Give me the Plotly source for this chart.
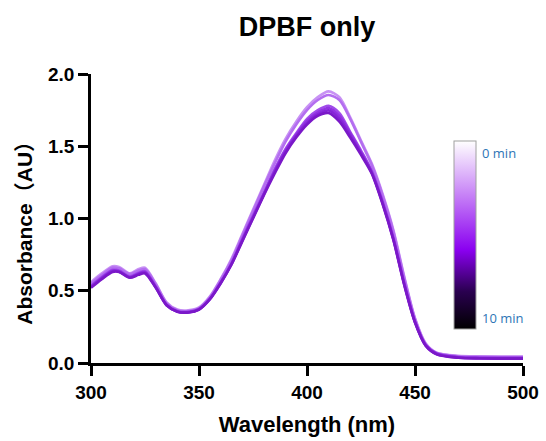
import plotly.graph_objects as go

wavelength = [300, 305, 310, 313, 318, 322, 325, 330, 335, 340, 345, 350, 355, 360, 365,
              370, 375, 380, 385, 390, 395, 400, 405, 410, 415, 420, 425, 430, 435, 440,
              445, 450, 455, 460, 470, 480, 490, 500]

abs_0min = [0.56, 0.62, 0.67, 0.665, 0.62, 0.65, 0.66, 0.55, 0.42, 0.37, 0.365, 0.385, 0.46, 0.58, 0.72,
            0.89, 1.06, 1.23, 1.40, 1.55, 1.67, 1.77, 1.84, 1.88, 1.84, 1.70, 1.54, 1.38, 1.17, 0.92,
            0.60, 0.31, 0.135, 0.072, 0.05, 0.046, 0.045, 0.045]
abs_2min = [0.55, 0.61, 0.66, 0.655, 0.615, 0.64, 0.65, 0.545, 0.415, 0.365, 0.36, 0.38, 0.455, 0.575, 0.71,
            0.88, 1.05, 1.22, 1.38, 1.53, 1.65, 1.75, 1.82, 1.855, 1.82, 1.69, 1.53, 1.37, 1.16, 0.91,
            0.59, 0.305, 0.13, 0.07, 0.047, 0.043, 0.042, 0.042]
abs_4min = [0.535, 0.595, 0.645, 0.64, 0.60, 0.625, 0.635, 0.53, 0.405, 0.36, 0.355, 0.375, 0.445, 0.56, 0.69,
            0.86, 1.02, 1.18, 1.34, 1.48, 1.59, 1.69, 1.75, 1.78, 1.73, 1.60, 1.47, 1.33, 1.12, 0.87,
            0.56, 0.29, 0.125, 0.066, 0.042, 0.037, 0.036, 0.036]
abs_6min = [0.53, 0.59, 0.64, 0.635, 0.595, 0.62, 0.63, 0.525, 0.40, 0.357, 0.352, 0.372, 0.443, 0.555, 0.685,
            0.85, 1.01, 1.17, 1.33, 1.47, 1.58, 1.675, 1.735, 1.765, 1.71, 1.59, 1.46, 1.32, 1.11, 0.86,
            0.55, 0.285, 0.122, 0.064, 0.04, 0.035, 0.034, 0.034]
abs_8min = [0.525, 0.585, 0.635, 0.632, 0.592, 0.615, 0.625, 0.522, 0.40, 0.355, 0.35, 0.37, 0.441, 0.552, 0.682,
            0.845, 1.005, 1.165, 1.32, 1.46, 1.57, 1.66, 1.72, 1.748, 1.69, 1.575, 1.45, 1.315, 1.105, 0.855,
            0.545, 0.282, 0.12, 0.062, 0.038, 0.033, 0.032, 0.032]
abs_10min = [0.52, 0.58, 0.63, 0.63, 0.59, 0.61, 0.62, 0.52, 0.40, 0.355, 0.35, 0.37, 0.44, 0.55, 0.68,
             0.84, 1.00, 1.16, 1.31, 1.45, 1.56, 1.65, 1.71, 1.73, 1.67, 1.56, 1.44, 1.31, 1.10, 0.85,
             0.54, 0.28, 0.118, 0.06, 0.036, 0.031, 0.03, 0.03]

series = [abs_0min, abs_2min, abs_4min, abs_6min, abs_8min, abs_10min]
line_colors = ["#C892F4", "#B46EF0", "#A04CEA", "#9232E2", "#8524D8", "#7A18C8"]

x_ticks = [300, 350, 400, 450, 500]
y_ticks = [0.0, 0.5, 1.0, 1.5, 2.0]

FONT = "Liberation Sans, Arial, sans-serif"

fig = go.Figure()
for ys, c in zip(series, line_colors):
    fig.add_trace(go.Scatter(
        x=wavelength, y=ys, mode="lines",
        line=dict(color=c, width=2.6, shape="spline", smoothing=0.8),
        showlegend=False, hoverinfo="skip"))

# colour bar (time scale)
fig.add_trace(go.Scatter(
    x=[None], y=[None], mode="markers", showlegend=False,
    marker=dict(
        color=[0, 10], cmin=0, cmax=10,
        colorscale=[[0, "#000000"], [0.2, "#2A0050"], [0.42, "#8A00F0"],
                    [0.7, "#C47CF6"], [1, "#FFFFFF"]],
        showscale=True,
        colorbar=dict(
            x=0.840, xanchor="left", y=0.443, yanchor="middle",
            len=0.65, lenmode="fraction", thickness=22, thicknessmode="pixels",
            outlinewidth=1, outlinecolor="#A0A0A0", xpad=0, ypad=0,
            showticklabels=False, ticks=""))))

fig.update_layout(
    width=546, height=441,
    margin=dict(l=91, r=23, t=74, b=78, autoexpand=False),
    paper_bgcolor="white", plot_bgcolor="white",
    font=dict(family=FONT, color="black"),
    title=dict(text="DPBF only", x=0.5625, xanchor="center", y=0.939, yanchor="middle",
               font=dict(size=27, family=FONT, weight="bold", color="black")),
    xaxis=dict(
        range=[300, 500], tickvals=x_ticks, ticktext=[str(v) for v in x_ticks],
        showline=True, linecolor="black", linewidth=2.5, ticks="outside", ticklen=10,
        tickwidth=2.5, tickcolor="black", showgrid=False, zeroline=False,
        tickfont=dict(size=19, family=FONT, weight="bold"),
        title=dict(text="Wavelength (nm)", standoff=16,
                   font=dict(size=22, family=FONT, weight="bold"))),
    yaxis=dict(
        range=[0, 2.0], tickvals=y_ticks, ticktext=[f"{v:.1f}" for v in y_ticks],
        showline=True, linecolor="black", linewidth=2.5, ticks="outside", ticklen=10,
        tickwidth=2.5, tickcolor="black", showgrid=False, zeroline=False,
        tickfont=dict(size=19, family=FONT, weight="bold")),
    annotations=[
        dict(text="Absorbance（AU）", textangle=-90, x=-0.153, y=0.468,
             xref="paper", yref="paper", xanchor="center", yanchor="middle",
             showarrow=False,
             font=dict(size=21, family="Liberation Sans, Noto Sans CJK SC, sans-serif",
                       weight="bold", color="black")),
        dict(text="0 min", x=0.900, y=0.727, xref="paper", yref="paper",
             xanchor="left", yanchor="middle", showarrow=False,
             font=dict(size=13, family="Open Sans, Liberation Sans, sans-serif", color="#2E75B6")),
        dict(text="10 min", x=0.900, y=0.156, xref="paper", yref="paper",
             xanchor="left", yanchor="middle", showarrow=False,
             font=dict(size=13, family="Open Sans, Liberation Sans, sans-serif", color="#2E75B6")),
    ],
)

fig.write_html("out.html")
